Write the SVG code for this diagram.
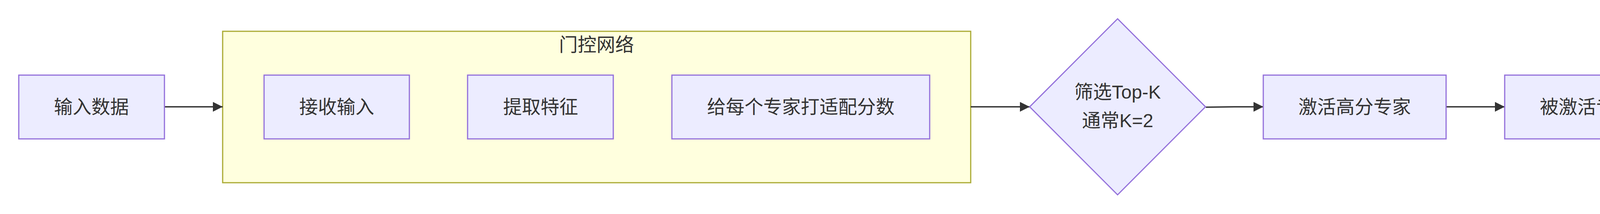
<svg xmlns="http://www.w3.org/2000/svg" width="6199" height="547" viewBox="0 0 6199 547">
<style>
.bg{fill:#ffffff}
.cluster{fill:#ffffde;stroke:#aaaa33;stroke-width:3}
.node{fill:#ececff;stroke:#9370db;stroke-width:3}
.lbl{font-family:"Liberation Sans","Noto Sans CJK SC",sans-serif;font-size:48px;fill:#333333;text-anchor:middle}
.edge{stroke:#333333;stroke-width:3.5;fill:none}
.wm{font-family:"Liberation Sans","Noto Sans CJK SC",sans-serif;font-size:94px;fill:#dcdcdc;fill-opacity:0.85;stroke:#b4b4b4;stroke-width:1.2;stroke-opacity:0.8}
</style>
<defs>
<marker id="arrow" viewBox="0 0 10 10" refX="10" refY="5" markerUnits="userSpaceOnUse" markerWidth="25" markerHeight="25" orient="auto">
<path d="M0,0 L10,5 L0,10 z" fill="#333333"/>
</marker>
</defs>
<rect class="bg" x="0" y="0" width="6199" height="547"/>
<g id="cluster-gate">
<rect class="cluster" x="570" y="80" width="1915" height="387"/>
<text class="lbl" x="1527" y="131">门控网络</text>
</g>
<g id="cluster-merge">
<rect class="cluster" x="4614" y="80" width="917" height="387"/>
<text class="lbl" x="5073" y="131">整合模块</text>
</g>
<g id="connectors">
<path class="edge" d="M421,273 L570,273" marker-end="url(#arrow)"/>
<path class="edge" d="M2485,273 L2636,273" marker-end="url(#arrow)"/>
<path class="edge" d="M3087,274 L3160,273 L3234,273" marker-end="url(#arrow)"/>
<path class="edge" d="M3702,273 L3852,273" marker-end="url(#arrow)"/>
<path class="edge" d="M4465,273 L4614,273" marker-end="url(#arrow)"/>
<path class="edge" d="M5531,273 L5682,273" marker-end="url(#arrow)"/>
</g>
<g id="node-input">
<rect class="node" x="48" y="192" width="373" height="163"/>
<text class="lbl" x="234" y="290">输入数据</text>
</g>
<g id="node-receive">
<rect class="node" x="676" y="192" width="372" height="163"/>
<text class="lbl" x="862" y="290">接收输入</text>
</g>
<g id="node-extract">
<rect class="node" x="1197" y="192" width="373" height="163"/>
<text class="lbl" x="1384" y="290">提取特征</text>
</g>
<g id="node-score">
<rect class="node" x="1720" y="192" width="660" height="163"/>
<text class="lbl" x="2050" y="290">给每个专家打适配分数</text>
</g>
<g id="node-topk">
<polygon class="node" points="2861,48 3086,273 2861,498 2636,273"/>
<text class="lbl" x="2861" y="252">筛选Top-K</text>
<text class="lbl" x="2861" y="325">通常K=2</text>
</g>
<g id="node-activate">
<rect class="node" x="3234" y="192" width="468" height="163"/>
<text class="lbl" x="3468" y="290">激活高分专家</text>
</g>
<g id="node-parallel">
<rect class="node" x="3852" y="192" width="613" height="163"/>
<text class="lbl" x="4158" y="290">被激活专家并行处理</text>
</g>
<g id="node-weighted">
<rect class="node" x="4720" y="192" width="707" height="163"/>
<text class="lbl" x="5073" y="290">按专家适配分数加权求和</text>
</g>
<g id="node-output">
<rect class="node" x="5682" y="192" width="469" height="163"/>
<text class="lbl" x="5916" y="290">输出最终结果</text>
</g>
<text class="wm" x="5096" y="498" textLength="1074" lengthAdjust="spacingAndGlyphs">CSDN @minhuan@智循AI</text>
</svg>
